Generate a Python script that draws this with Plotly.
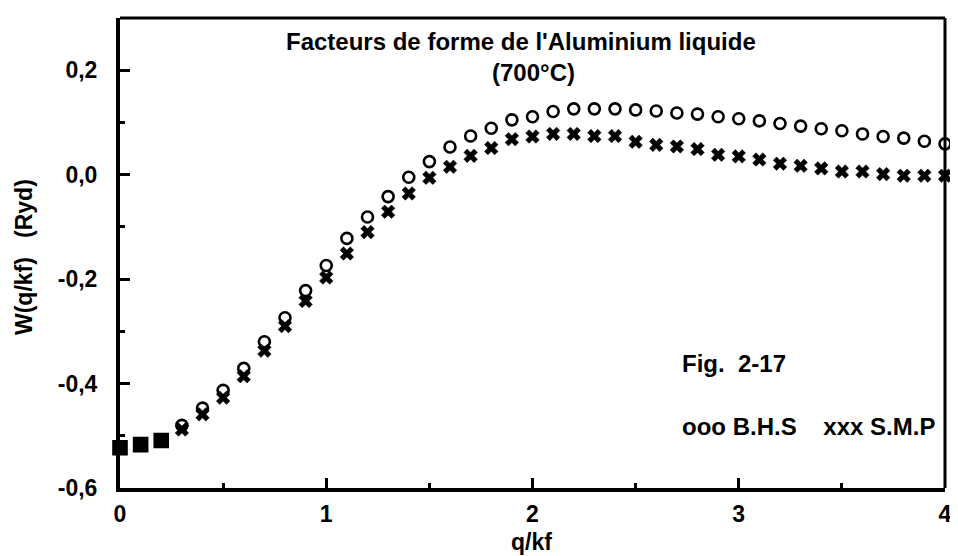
import plotly.graph_objects as go

q = [0.0, 0.1, 0.2, 0.3, 0.4, 0.5, 0.6, 0.7, 0.8, 0.9,
     1.0, 1.1, 1.2, 1.3, 1.4, 1.5, 1.6, 1.7, 1.8, 1.9,
     2.0, 2.1, 2.2, 2.3, 2.4, 2.5, 2.6, 2.7, 2.8, 2.9,
     3.0, 3.1, 3.2, 3.3, 3.4, 3.5, 3.6, 3.7, 3.8, 3.9, 4.0]

w_bhs = [-0.523, -0.517, -0.509, -0.480, -0.447, -0.413, -0.371, -0.320, -0.274, -0.222,
         -0.174, -0.122, -0.081, -0.042, -0.005, 0.025, 0.053, 0.074, 0.089, 0.105,
         0.111, 0.121, 0.126, 0.126, 0.126, 0.124, 0.122, 0.118, 0.116, 0.111,
         0.107, 0.103, 0.098, 0.093, 0.088, 0.084, 0.078, 0.073, 0.070, 0.064, 0.059]

w_smp = [-0.523, -0.517, -0.509, -0.488, -0.459, -0.427, -0.386, -0.337, -0.290, -0.242,
         -0.197, -0.151, -0.110, -0.071, -0.036, -0.006, 0.015, 0.036, 0.051, 0.068,
         0.073, 0.078, 0.078, 0.074, 0.074, 0.063, 0.057, 0.054, 0.049, 0.038,
         0.035, 0.029, 0.021, 0.017, 0.012, 0.006, 0.006, 0.001, -0.002, -0.002, -0.002]

y_tickvals = [-0.6, -0.4, -0.2, 0.0, 0.2]
y_ticktext = ["-0,6", "-0,4", "-0,2", "0,0", "0,2"]
x_tickvals = [0, 1, 2, 3, 4]
x_ticktext = ["0", "1", "2", "3", "4"]

FONT = "Liberation Sans"

# first three points overlap into solid blobs in the original
n_sq = 3
sym_bhs = ["square"] * n_sq + ["circle-open"] * (len(q) - n_sq)
sym_smp = ["square"] * n_sq + ["x"] * (len(q) - n_sq)
size_bhs = [13] * n_sq + [11] * (len(q) - n_sq)
size_smp = [13] * n_sq + [12] * (len(q) - n_sq)

fig = go.Figure()

fig.add_trace(go.Scatter(
    x=q, y=w_bhs, mode="markers", name="B.H.S", cliponaxis=False,
    marker=dict(symbol=sym_bhs, size=size_bhs, color="black", opacity=1,
                line=dict(color="black", width=2.6))
))

fig.add_trace(go.Scatter(
    x=q, y=w_smp, mode="markers", name="S.M.P", cliponaxis=False,
    marker=dict(symbol=sym_smp, size=size_smp, color="black", opacity=1,
                line=dict(color="black", width=0.5))
))

axis_font = dict(family=FONT, size=23, color="black", weight="bold")

fig.update_xaxes(
    range=[0, 4], tickvals=x_tickvals, ticktext=x_ticktext,
    ticks="inside", ticklen=10, tickwidth=3, tickcolor="black",
    minor=dict(dtick=0.5, tick0=0, ticks="inside", ticklen=5, tickwidth=3, tickcolor="black"),
    showline=True, linewidth=4, linecolor="black", showgrid=False, zeroline=False,
    tickfont=axis_font, ticklabelstandoff=2, ticklabeloverflow="allow"
)

fig.update_yaxes(
    range=[-0.6, 0.3], tickvals=y_tickvals, ticktext=y_ticktext,
    ticks="inside", ticklen=10, tickwidth=3, tickcolor="black",
    minor=dict(dtick=0.1, tick0=0, ticks="inside", ticklen=5, tickwidth=3, tickcolor="black"),
    showline=True, linewidth=4, linecolor="black", showgrid=False, zeroline=False,
    tickfont=axis_font, ticklabelstandoff=14
)

# top and right frame lines (thinner than the axes)
fig.add_shape(type="line", xref="paper", yref="paper", x0=0, x1=1, y0=1, y1=1,
              line=dict(color="black", width=3))
fig.add_shape(type="line", xref="paper", yref="paper", x0=1, x1=1, y0=0, y1=1,
              line=dict(color="black", width=3))

txt = dict(family=FONT, size=24, color="black", weight="bold")
fig.add_annotation(x=0.486, y=0.951, xref="paper", yref="paper", showarrow=False,
                   xanchor="center", yanchor="middle",
                   text="Facteurs de forme de l'Aluminium liquide", font=txt)
fig.add_annotation(x=0.501, y=0.884, xref="paper", yref="paper", showarrow=False,
                   xanchor="center", yanchor="middle",
                   text="(700°C)", font=txt)
fig.add_annotation(x=0.679, y=0.264, xref="paper", yref="paper", showarrow=False,
                   xanchor="left", yanchor="middle", text="Fig.&nbsp;&nbsp;2-17", font=txt)
fig.add_annotation(x=0.679, y=0.130, xref="paper", yref="paper", showarrow=False,
                   xanchor="left", yanchor="middle",
                   text="ooo B.H.S&nbsp;&nbsp;&nbsp;&nbsp;xxx S.M.P", font=txt)

# axis titles
fig.add_annotation(x=0.499, y=-0.115, xref="paper", yref="paper", showarrow=False,
                   xanchor="center", yanchor="middle", text="q/kf", font=axis_font)
fig.add_annotation(x=-0.1166, y=0.491, xref="paper", yref="paper", showarrow=False,
                   xanchor="center", yanchor="middle",
                   textangle=-90, text="W(q/kf)&nbsp;&nbsp;&nbsp;(Ryd)", font=axis_font)

# the page body adds an 8px offset, so the figure is 8px smaller than the window
fig.update_layout(
    width=950, height=548,
    showlegend=False,
    margin=dict(l=112, r=6, t=10, b=68),
    paper_bgcolor="white",
    plot_bgcolor="white",
    font=dict(family=FONT, color="black")
)

fig.write_html("out.html")
